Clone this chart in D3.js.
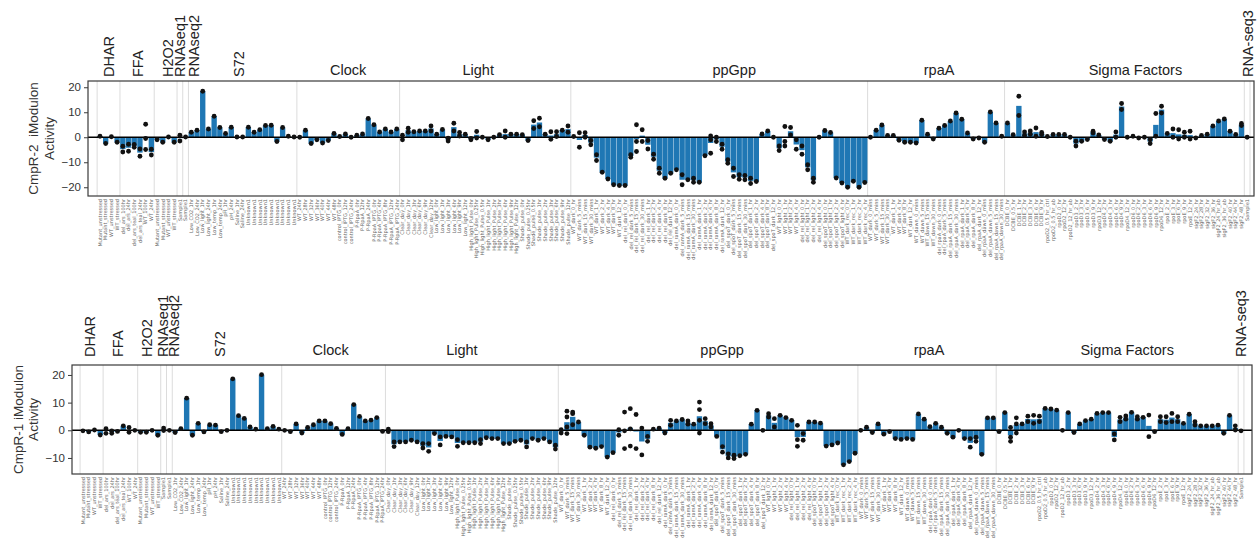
<!DOCTYPE html>
<html>
  <head>
    <title>CmpR iModulon activity</title>
    <script src="https://d3js.org/d3.v7.min.js"></script>
    <style>
      body { margin: 0; background: #fff; }
    </style>
  </head>
  <body>
    <div id="chart"></div>
    <script>
      // projects, in plot order, with number of samples in each
      var projectNames = ["DHAR", "FFA", "H2O2", "RNAseq1", "RNAseq2", "S72", "Clock", "Light", "ppGpp", "rpaA", "Sigma Factors", "RNA-seq3"];
      var projectSizes = [4, 6, 4, 1, 1, 19, 18, 30, 52, 24, 42, 1];
      var verticalNames = ["DHAR", "FFA", "H2O2", "RNAseq1", "RNAseq2", "S72", "RNA-seq3"];

      var sampleNames = [
        "Mutant_unstressed", "Mutant_stressed", "WT_unstressed", "WT_stressed",
        "del_ars_100hr", "del_ars_24hr", "del_ars_teal_100hr", "del_ars_teal_24hr", "WT_100hr", "WT_24hr",
        "Mutant_unstressed", "Mutant_stressed", "WT_unstressed", "WT_stressed",
        "Sample1",
        "Sample1",
        "Low_CO2_1hr", "Low_CO2_24hr", "Low_light_1hr", "Low_light_24hr", "Low_temp_1hr", "Low_temp_24hr", "pH_1hr", "pH_24hr",
        "Saline_1hr", "Saline_24hr", "Unknown1", "Unknown1", "Unknown1", "Unknown1", "Unknown1", "Unknown1", "Unknown1", "Unknown1", "Unknown1",
        "WT_24hr", "WT_28hr", "WT_32hr", "WT_36hr", "WT_40hr", "WT_44hr", "WT_48hr", "control_IPTG_0hr", "control_IPTG_12hr",
        "control_IPTG_24hr", "P-RpaA_0hr", "P-RpaA_12hr", "P-RpaA_24hr", "P-RpaA_IPTG_0hr", "P-RpaA_IPTG_4hr", "P-RpaA_IPTG_8hr",
        "P-RpaA_IPTG_12hr", "P-RpaA_IPTG_24hr",
        "Clear_day_0hr", "Clear_day_1hr", "Clear_day_3hr", "Clear_day_6hr", "Clear_day_9hr", "Clear_day_12hr",
        "Low_light_0hr", "Low_light_1hr", "Low_light_3hr", "Low_light_6hr", "Low_light_9hr", "Low_light_12hr",
        "High_light_Pulse_0hr", "High_light_Pulse_0.25hr", "High_light_Pulse_0.5hr", "High_light_Pulse_1hr", "High_light_Pulse_2hr",
        "High_light_Pulse_3hr", "High_light_Pulse_6hr", "High_light_Pulse_9hr", "High_light_Pulse_12hr",
        "Shade_pulse_0hr", "Shade_pulse_0.25hr", "Shade_pulse_0.5hr", "Shade_pulse_1hr", "Shade_pulse_2hr", "Shade_pulse_3hr",
        "Shade_pulse_6hr", "Shade_pulse_9hr", "Shade_pulse_12hr",
        "WT_dark_0_hr", "WT_dark_5_mins", "WT_dark_15_mins", "WT_dark_30_mins", "WT_dark_1_hr", "WT_dark_2_hr", "WT_dark_4_hr",
        "WT_dark_8_hr", "WT_dark_12_hr",
        "del_rel_dark_0_hr", "del_rel_dark_5_mins", "del_rel_dark_15_mins", "del_rel_dark_30_mins", "del_rel_dark_1_hr",
        "del_rel_dark_2_hr", "del_rel_dark_4_hr", "del_rel_dark_8_hr", "del_rel_dark_12_hr",
        "del_ramA_dark_0_hr", "del_ramA_dark_5_mins", "del_ramA_dark_15_mins", "del_ramA_dark_30_mins", "del_ramA_dark_1_hr",
        "del_ramA_dark_2_hr", "del_ramA_dark_4_hr", "del_ramA_dark_8_hr", "del_ramA_dark_12_hr",
        "del_spoT_dark_0_hr", "del_spoT_dark_5_mins", "del_spoT_dark_15_mins", "del_spoT_dark_30_mins", "del_spoT_dark_1_hr",
        "del_spoT_dark_2_hr", "del_spoT_dark_4_hr", "del_spoT_dark_8_hr", "del_spoT_dark_12_hr",
        "WT_light_0_hr", "WT_light_1_hr", "WT_light_2_hr", "WT_light_4_hr",
        "del_rel_light_0_hr", "del_rel_light_1_hr", "del_rel_light_2_hr", "del_rel_light_4_hr",
        "del_spoT_light_0_hr", "del_spoT_light_1_hr", "del_spoT_light_2_hr", "del_spoT_light_4_hr",
        "WT_dark_rec_0_hr", "WT_dark_rec_1_hr", "WT_dark_rec_2_hr", "WT_dark_rec_4_hr",
        "WT_dark_0_mins", "WT_dark_5_mins", "WT_dark_15_mins", "WT_dark_30_mins", "WT_dark_1_hr", "WT_dark_4_hr", "WT_dark_8_hr",
        "WT_dark_12_hr", "WT_dawn_0_mins", "WT_dawn_5_mins", "WT_dawn_15_mins", "WT_dawn_30_mins",
        "del_rpaA_dark_0_mins", "del_rpaA_dark_5_mins", "del_rpaA_dark_15_mins", "del_rpaA_dark_30_mins", "del_rpaA_dark_1_hr",
        "del_rpaA_dark_4_hr", "del_rpaA_dark_8_hr", "del_rpaA_dark_12_hr", "del_rpaA_dawn_0_mins", "del_rpaA_dawn_5_mins",
        "del_rpaA_dawn_15_mins", "del_rpaA_dawn_30_mins",
        "DCBE_0_hr", "DCBE_0.5_hr", "DCBE_1_hr", "DCBE_2_hr", "DCBE_3_hr", "DCBE_6_hr", "DCBE_9_hr",
        "rpoD2_0.5_hr_ctrl", "rpoD2_0.5_hr_ab", "rpoD2_0_hr", "rpoD2_12_hr", "rpoD2_12_hr_ab",
        "rpoD3_2_hr", "rpoD3_3_hr", "rpoD3_6_hr", "rpoD3_9_hr", "rpoD3_12_hr",
        "rpoD4_2_hr", "rpoD4_3_hr", "rpoD4_6_hr", "rpoD4_9_hr", "rpoD4_12_hr",
        "rpoD6_0_hr", "rpoD6_2_hr", "rpoD6_3_hr", "rpoD6_6_hr", "rpoD6_9_hr", "rpoD6_12_hr",
        "rpoE_2_hr", "rpoE_3_hr", "rpoE_6_hr", "rpoE_9_hr", "rpoE_12_hr",
        "sigF2_24_hr", "sigF2_28_hr", "sigF2_32_hr", "sigF2_36_hr", "sigF2_24_hr_ab", "sigF2_36_hr_ab", "sigF2_40_hr",
        "sigF2_44_hr", "sigF2_48_hr",
        "Sample1"
      ];

      // replicate activities per sample (bar = mean of replicates)
      var cmpr2Activity = [
        [0.4], [-2.5], [0.2], [-2],
        [-3.6, -5.9], [-2.8, -5.6], [-2.9, -4], [-4.7, -7.6], [5.2, -0.5, -4.9], [-4.8, -7.1],
        [-1], [-2], [0.1], [-2],
        [0.8, -1.5],
        [0.1],
        [2], [2.8], [18.4], [3.3], [8.4], [3.9], [1.5], [4], [0.1], [0.1], [4], [2], [3], [4.7], [4.8], [-1.7], [3.9], [0.4], [0.1],
        [0], [2.8], [-2.5], [-1], [-2.3], [-1.3], [1.5], [0.3], [1.3], [0], [0.8], [1.3], [7.5], [5], [2.1], [3.3], [2.1], [3.3],
        [0.8, -1], [3.6, 2], [2.2], [2.5], [2.5], [4.5, 2.5], [1.2], [3.1], [-0.4, -1.5], [5.6, 2.5], [1.9, 0.5], [1.2], [-1, -0.5],
        [2.3, -0.3], [0], [-1], [0], [1], [2.5, 0], [1.2], [1.2], [1], [-1.3], [6.6, 3.5], [7.6, 4.2], [1.2], [2.2, -0.8], [2.2, 0.3],
        [2.8], [4.5, 2],
        [0.3], [1.8, -4], [1.8, 0], [-1.3, -3], [-7, -9.3], [-14], [-16.7], [-19], [-19.3], [-19.3], [-7, -8], [5, -1.7, -5.7],
        [3, -1.7], [-1.3, -4.7], [-6.8, -8.8], [-12.4, -14.4], [-16.4], [-14.4], [-13], [-15, -19], [-17], [-16.4, -18], [-18],
        [-7.4], [0.5, -1, -6.4], [0, -1.7], [-2.8, -4.8], [-9, -10.4], [-12.4, -15.7], [-15, -16.8], [-15.3, -17], [-16.4, -18.5],
        [-17.7], [1.3], [2.5], [0], [-3.5, -5.3], [4.3, -1.7, -3.5], [3.9, 0.9], [-1, -4.8], [-3.5, -6.8], [-11, -13], [-16.4, -18],
        [0], [2.7], [1.9], [-16.3], [-18.3], [-20], [-17.6], [-20], [-18.1],
        [0], [2.8], [4.9], [0.7], [0.7], [-1.2], [-2], [-2], [-2.3], [6.8], [1.2], [-0.7], [3.6], [4.7], [6.5], [9.7], [7.2], [1.7],
        [-0.7], [-0.3], [-2], [10.1], [5.7], [0.4],
        [5.7], [1], [16.4, 8.7], [2.1, 0.8], [2.5, 1.2], [3.7, 0.4], [1.9, 1.1], [0.3], [1.1], [1.1], [1.1], [0], [-1.6, -3.5], [-1.6],
        [-0.9], [2.4, 1.7], [0.9], [-0.9], [-1.6], [2.1, 0], [13.5, 11.1], [0], [0.4], [-0.3], [0], [-0.9, -2.5], [9.5, 0.4],
        [12.4, 9.7], [1.5], [3.3, 0], [3, -0.7], [2, 0], [2.4, -0.7], [-0.3], [0.7], [1.2], [4.5], [6.5], [7.3], [2.4], [1.1], [5.5, 4.7],
        [0]
      ];

      var cmpr1Activity = [
        [-0.2], [-0.6], [0.1], [-1.7],
        [0.6, -1.1], [-1.1, -0.2], [-0.4], [1.6], [1, -0.7], [0],
        [-0.7], [-0.7], [0], [-1.8],
        [0.8, -0.1],
        [0],
        [-0.8], [0.6], [11.6], [-1.8], [2.5], [-0.6], [2], [1.9], [-0.5], [0], [18.6], [5.3], [4.3], [1.2], [0.4], [20.1], [0.6], [1.4], [0.4],
        [0], [-0.5], [2.3], [-1], [1], [2], [3.4], [3.4], [2.4], [0.7], [-1.5], [0.6], [9.3], [5], [3.4], [3.7], [4.6], [-0.4],
        [0.4, -0.5], [-4.2, -5.9], [-4.2], [-4.2], [-3.6], [-4.2], [-4.8, -6.4], [-4.8, -7.6], [-1.2], [-2.4, -5.3], [-2.2], [-2.4],
        [-3.4, -5.8], [-4.5], [-4.5], [-4.5], [-3.4, -4.8], [-2.7], [-3], [-3], [-4.8], [-4.8], [-4], [-3.6], [-4.2, -6], [-3], [-3.6],
        [-3], [-4.2], [-5.4, -6.8],
        [0.2, -1], [6.9, 4.8, 1.2, -1.2], [6.6, 6, 2], [3], [-1.8], [-6.1], [-6.5], [-5.9], [-9.7], [-8.1], [0.2, -1.8],
        [6.6, -0.2, -6.6], [7.8, 0.5, -5.7], [5.7, -6.6], [0.8, -8.9], [-2.2, -4], [0.4], [0.8], [-1], [3.6, 1.8], [3.4], [3.9],
        [3.4, 2.2], [2.2], [10.2, 7.5, 3.6, -1], [4.2, 2.4], [2.4, 1.2], [-2.2], [-5.9, -7.9], [-8.5, -10], [-9, -10.2], [-9.2],
        [-8.7], [2.2], [7.2], [0], [6, 4.8], [4.2, 1.2], [5.4], [4.6], [3.6], [1.8, -3.4, -5.8], [-1.2, -3.6], [3], [3], [2.6],
        [-5.7], [-5.3], [-4.6], [-12.5], [-11.3], [-8.3],
        [0], [1.1], [-0.8], [2.3], [-1.4], [-0.5], [-3], [-3.3], [-3], [-3.3], [5.9], [4], [1.3], [2.5], [1.1], [-1.1], [-2.5], [0],
        [-3], [-3, -6.1], [-2.5, -4], [-8.7], [4.5], [4.5],
        [-0.5], [6.4], [1, -2.5, -4], [4.5, 2.3, -1], [2.3], [5.1, 3.1], [5.4, 2.5], [5.1, 3.1], [7.9], [7.7], [7.3], [0], [6.4],
        [-0.8], [2.3], [3.5], [4], [6.1], [6.4], [6.4], [-1.3, -3.5], [4.7, 3.1], [5.2, 4], [6.5], [4.9, 4], [4.7], [5.5, -2.3],
        [-0.5], [4.9, 3.1], [4.9, 2.8], [6.1, 3.1], [4.9, 3.1], [2.5], [5.8], [3.1, 1.9], [1.6], [1.6], [1.6], [1.9], [-1.1], [5.4],
        [1.6, 0.1],
        [-0.2]
      ];

      var panels = [
        { reps: cmpr2Activity, ylabel: ["CmpR-2  iModulon", "Activity"], labelX: [33, 49],
          left: 88, right: 1254, top: 81, bottom: 196, xDomain: [-1.6, 202.7], yDomain: [-23.5, 22.5],
          ticks: [-20, -10, 0, 10, 20], hGap: 6, vGap: 4,
          nudge: { "FFA": 1, "H2O2": 2, "RNAseq2": 8, "S72": -4, "Light": -7, "ppGpp": 15, "rpaA": 3, "Sigma Factors": 11, "RNA-seq3": 1 } },
        { reps: cmpr1Activity, ylabel: ["CmpR-1 iModulon", "Activity"], labelX: [18, 33],
          left: 72, right: 1252, top: 365, bottom: 474, xDomain: [-1.4, 203.4], yDomain: [-15.8, 23.6],
          ticks: [-10, 0, 10, 20], hGap: 10, vGap: 8,
          nudge: { "DHAR": -2, "FFA": -2, "H2O2": -2, "RNAseq1": -1, "RNAseq2": 5, "S72": -7, "Clock": -3, "Light": -10,
                   "ppGpp": 14, "rpaA": 2, "Sigma Factors": 10 } }
      ];

      var W = 1257, H = 538;
      var svg = d3.select("#chart").append("svg")
        .attr("width", W)
        .attr("height", H)
        .style("font-family", "'Liberation Sans', Arial, sans-serif");

      // group boundaries in sample-index units
      var ends = Array.from(d3.cumsum(projectSizes));
      var bounds = [0].concat(ends);

      panels.forEach(function(p) {
        var x = d3.scaleLinear().domain(p.xDomain).range([p.left, p.right]);
        var y = d3.scaleLinear().domain(p.yDomain).range([p.bottom, p.top]);
        var step = x(1) - x(0);
        var g = svg.append("g");

        var clip = "clip" + p.top;
        g.append("clipPath").attr("id", clip)
          .append("rect")
          .attr("x", p.left).attr("y", p.top)
          .attr("width", p.right - p.left).attr("height", p.bottom - p.top);

        var plot = g.append("g").attr("clip-path", "url(#" + clip + ")");

        // project separators
        plot.selectAll("line.sep")
          .data(bounds)
          .enter()
          .append("line")
          .attr("class", "sep")
          .attr("x1", function(d) { return x(d); })
          .attr("x2", function(d) { return x(d); })
          .attr("y1", p.top)
          .attr("y2", p.bottom)
          .attr("stroke", "#dcdcdc")
          .attr("stroke-width", 1);

        // bars
        plot.selectAll("rect.bar")
          .data(p.reps)
          .enter()
          .append("rect")
          .attr("class", "bar")
          .attr("x", function(d, i) { return x(i + 0.03); })
          .attr("width", step * 0.94)
          .attr("y", function(d) { return y(Math.max(0, d3.mean(d))); })
          .attr("height", function(d) { return Math.abs(y(d3.mean(d)) - y(0)); })
          .attr("fill", "#1f77b4");

        // zero line
        plot.append("line")
          .attr("x1", p.left).attr("x2", p.right)
          .attr("y1", y(0)).attr("y2", y(0))
          .attr("stroke", "#000")
          .attr("stroke-width", 1.6);

        // replicate dots
        var pts = [];
        p.reps.forEach(function(r, i) {
          r.forEach(function(v) { pts.push({ i: i, v: v }); });
        });
        plot.selectAll("circle.rep")
          .data(pts)
          .enter()
          .append("circle")
          .attr("class", "rep")
          .attr("cx", function(d) { return x(d.i + 0.5); })
          .attr("cy", function(d) { return y(d.v); })
          .attr("r", 2.4)
          .attr("fill", "#111");

        // frame
        g.append("rect")
          .attr("x", p.left).attr("y", p.top)
          .attr("width", p.right - p.left).attr("height", p.bottom - p.top)
          .attr("fill", "none")
          .attr("stroke", "#3a3a3a")
          .attr("stroke-width", 1.2);

        // y axis
        var yAxis = g.append("g")
          .attr("transform", "translate(" + p.left + ",0)")
          .call(d3.axisLeft(y).tickValues(p.ticks).tickSize(4).tickPadding(3)
            .tickFormat(function(d) { return d < 0 ? "\u2212" + Math.abs(d) : d; }));
        yAxis.select(".domain").remove();
        yAxis.selectAll("line").attr("stroke", "#3a3a3a");
        yAxis.selectAll("text")
          .attr("font-size", "11.5px")
          .attr("font-family", "'Liberation Sans', Arial, sans-serif")
          .attr("fill", "#333");

        // y label, two lines
        p.ylabel.forEach(function(t, k) {
          g.append("text")
            .text(t)
            .attr("transform", "translate(" + p.labelX[k] + "," + ((p.top + p.bottom) / 2) + ") rotate(-90)")
            .attr("text-anchor", "middle")
            .attr("dy", "0.35em")
            .attr("font-size", "13.5px")
            .style("white-space", "pre")
            .attr("fill", "#333");
        });

        // sample tick labels
        g.selectAll("text.sample")
          .data(sampleNames)
          .enter()
          .append("text")
          .attr("class", "sample")
          .text(function(d) { return d; })
          .attr("transform", function(d, i) {
            return "translate(" + x(i + 0.5) + "," + (p.bottom + 3) + ") rotate(-90)";
          })
          .attr("text-anchor", "end")
          .attr("dy", "0.35em")
          .attr("font-family", "'DejaVu Sans', sans-serif")
          .attr("font-size", "5px")
          .attr("fill", "#666");

        // project names
        projectNames.forEach(function(name, k) {
          var cx = x((bounds[k] + bounds[k + 1]) / 2) + (p.nudge[name] || 0);
          var t = g.append("text")
            .text(name)
            .attr("font-size", "14.5px")
            .attr("fill", "#222");
          if (verticalNames.indexOf(name) >= 0) {
            t.attr("transform", "translate(" + cx + "," + (p.top - p.vGap) + ") rotate(-90)")
              .attr("text-anchor", "start")
              .attr("dy", "0.35em");
          } else {
            t.attr("x", cx)
              .attr("y", p.top - p.hGap)
              .attr("text-anchor", "middle");
          }
        });
      });
    </script>
  </body>
</html>
